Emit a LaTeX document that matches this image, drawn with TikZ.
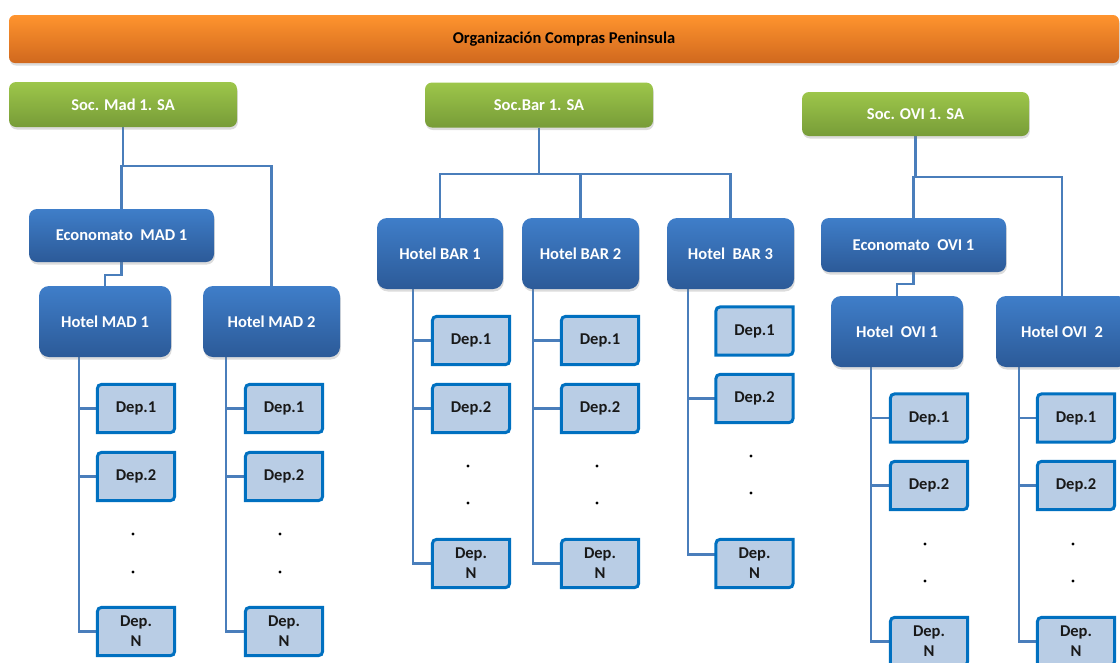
\documentclass[tikz,border=0pt]{standalone}
\usepackage{fontspec}
\setmainfont{Carlito}
\usetikzlibrary{shadows}

\definecolor{orangetop}{RGB}{255,148,46}
\definecolor{orangebot}{RGB}{208,104,30}
\definecolor{greentop}{RGB}{157,198,74}
\definecolor{greenbot}{RGB}{119,156,56}
\definecolor{bluetop}{RGB}{63,126,201}
\definecolor{bluebot}{RGB}{44,90,152}
\definecolor{depfill}{RGB}{185,205,229}
\definecolor{depline}{RGB}{0,112,192}
\definecolor{connblue}{RGB}{74,126,187}

\pgfdeclarelayer{background}
\pgfsetlayers{background,main}

% department box outline: rounded top-left and bottom-right corners
\newcommand\depoutline[1]{%
  \filldraw[depshape] (#1.north east) -- ([xshift=10pt]#1.north west)
    .. controls (#1.north west) .. ([yshift=-10pt]#1.north west)
    -- (#1.south west) -- ([xshift=-10pt]#1.south east)
    .. controls (#1.south east) .. ([yshift=10pt]#1.south east) -- cycle;}

\begin{document}
\begin{tikzpicture}[x=1pt,y=-1pt,
  txt/.style={font=\fontsize{16.5}{20}\selectfont\bfseries},
  shade box/.style={drop shadow={opacity=0.28,shadow xshift=0.8pt,shadow yshift=-2.5pt}},
  banner/.style={txt,rounded corners=6pt,top color=orangetop,bottom color=orangebot,
    minimum width=1110pt,minimum height=48pt,text=black,shade box},
  socbox/.style={txt,rounded corners=7pt,top color=greentop,bottom color=greenbot,
    minimum width=228pt,minimum height=45pt,text=white,shade box},
  hotelbox/.style={txt,rounded corners=10pt,top color=bluetop,bottom color=bluebot,
    minimum height=71pt,text=white,shade box},
  econbox/.style={hotelbox,rounded corners=8pt,minimum width=185pt,minimum height=53pt},
  depbox/.style={txt,minimum width=77pt,minimum height=48pt,inner sep=0pt,
    text=black!90,align=center},
  depshape/.style={fill=depfill,draw=depline,line width=3pt},
  conn/.style={draw=connblue,line width=2.2pt},
  dot/.style={fill=black}]

\useasboundingbox (0,0) rectangle (1120,662);

% top banner
\node[banner] (org) at (564,39) {Organización Compras Peninsula};

% companies
\node[socbox] (socmad) at (123,104.5) {Soc. Mad 1. SA};
\node[socbox] (socbar) at (539,105) {Soc.Bar 1. SA};
\node[socbox,minimum width=227pt,minimum height=44pt] (socovi) at (915.5,114) {Soc. OVI 1. SA};

% stores
\node[econbox] (econmad) at (121.5,235.5) {Economato~~MAD 1};
\node[econbox,minimum height=54pt] (econovi) at (913.5,245) {Economato~~OVI 1};

% hotels
\node[hotelbox,minimum width=132pt] (hmad1) at (105,321.5) {Hotel MAD 1};
\node[hotelbox,minimum width=137pt] (hmad2) at (271.5,321.5) {Hotel MAD 2};
\node[hotelbox,minimum width=126pt] (hbar1) at (440,253.5) {Hotel BAR 1};
\node[hotelbox,minimum width=117pt] (hbar2) at (580.5,253.5) {Hotel BAR 2};
\node[hotelbox,minimum width=127pt] (hbar3) at (730.5,253.5) {Hotel~~BAR 3};
\node[hotelbox,minimum width=132pt] (hovi1) at (897,331.5) {Hotel~~OVI 1};
\node[hotelbox,minimum width=132pt] (hovi2) at (1062,331.5) {Hotel OVI~~2};

% departments
\foreach \col/\cx/\ya/\yb/\yn in {m1/136/408.5/476.5/631.5, m2/284/408.5/476.5/631.5,
    b1/471/340.5/408.5/563.5, b2/600/340.5/408.5/563.5, b3/754.5/331/398.5/563.5,
    o1/929/418/485.5/641.5, o2/1076/418/485.5/641.5}{
  \node[depbox] (\col-1) at (\cx,\ya) {Dep.1};
  \node[depbox] (\col-2) at (\cx,\yb) {Dep.2};
  \node[depbox] (\col-n) at (\cx,\yn) {Dep.\\N};
}

% ellipsis dots between Dep.2 and Dep.N
\foreach \x/\ya/\yb in {133/534/572, 280/534/572, 468/466/503, 597/466/503,
    751/456/493, 925/544/581, 1073/544/581}{
  \fill[dot] (\x,\ya) circle[radius=1.7pt];
  \fill[dot] (\x,\yb) circle[radius=1.7pt];
}

\begin{pgfonlayer}{background}
  % Madrid branch
  \draw[conn] (socmad.south) -- ++(0,39) coordinate (jm) -| (hmad2.north);
  \draw[conn] (jm) -| (econmad.north);
  \draw[conn] (econmad.south) -- ++(0,13) -| (hmad1.north);
  % Barcelona branch
  \draw[conn] (socbar.south) -- ++(0,46) coordinate (jb);
  \draw[conn] (hbar1.north) -- (hbar1.north |- jb) -| (hbar3.north);
  \draw[conn] (hbar2.north) -- (hbar2.north |- jb);
  % Oviedo branch
  \draw[conn] (socovi.south) -- ++(0,41) coordinate (jo) -| (hovi2.north);
  \draw[conn] (jo) -| (econovi.north);
  \draw[conn] (econovi.south) -- ++(0,12) -| (hovi1.north);

  % hotel to department trunks
  \foreach \h/\col/\off in {hmad1/m1/18, hmad2/m2/19, hbar1/b1/19, hbar2/b2/28,
      hovi1/o1/19, hovi2/o2/18}{
    \coordinate (\col-t) at ([xshift=-\off pt]\col-1.west |- \h.south);
    \draw[conn] (\col-t) |- (\col-n.west);
    \draw[conn] (\col-t |- \col-1.west) -- (\col-1.west);
    \draw[conn] (\col-t |- \col-2.west) -- (\col-2.west);
  }
  \coordinate (b3-t) at ([xshift=-27.5pt]b3-1.west |- hbar3.south);
  \draw[conn] (b3-t) |- ([yshift=9pt]b3-n.west);
  \draw[conn] (b3-t |- b3-2.west) -- (b3-2.west);

  % department outlines
  \foreach \col in {m1,m2,b1,b2,b3,o1,o2}{
    \depoutline{\col-1}
    \depoutline{\col-2}
    \depoutline{\col-n}
  }
\end{pgfonlayer}
\end{tikzpicture}
\end{document}
